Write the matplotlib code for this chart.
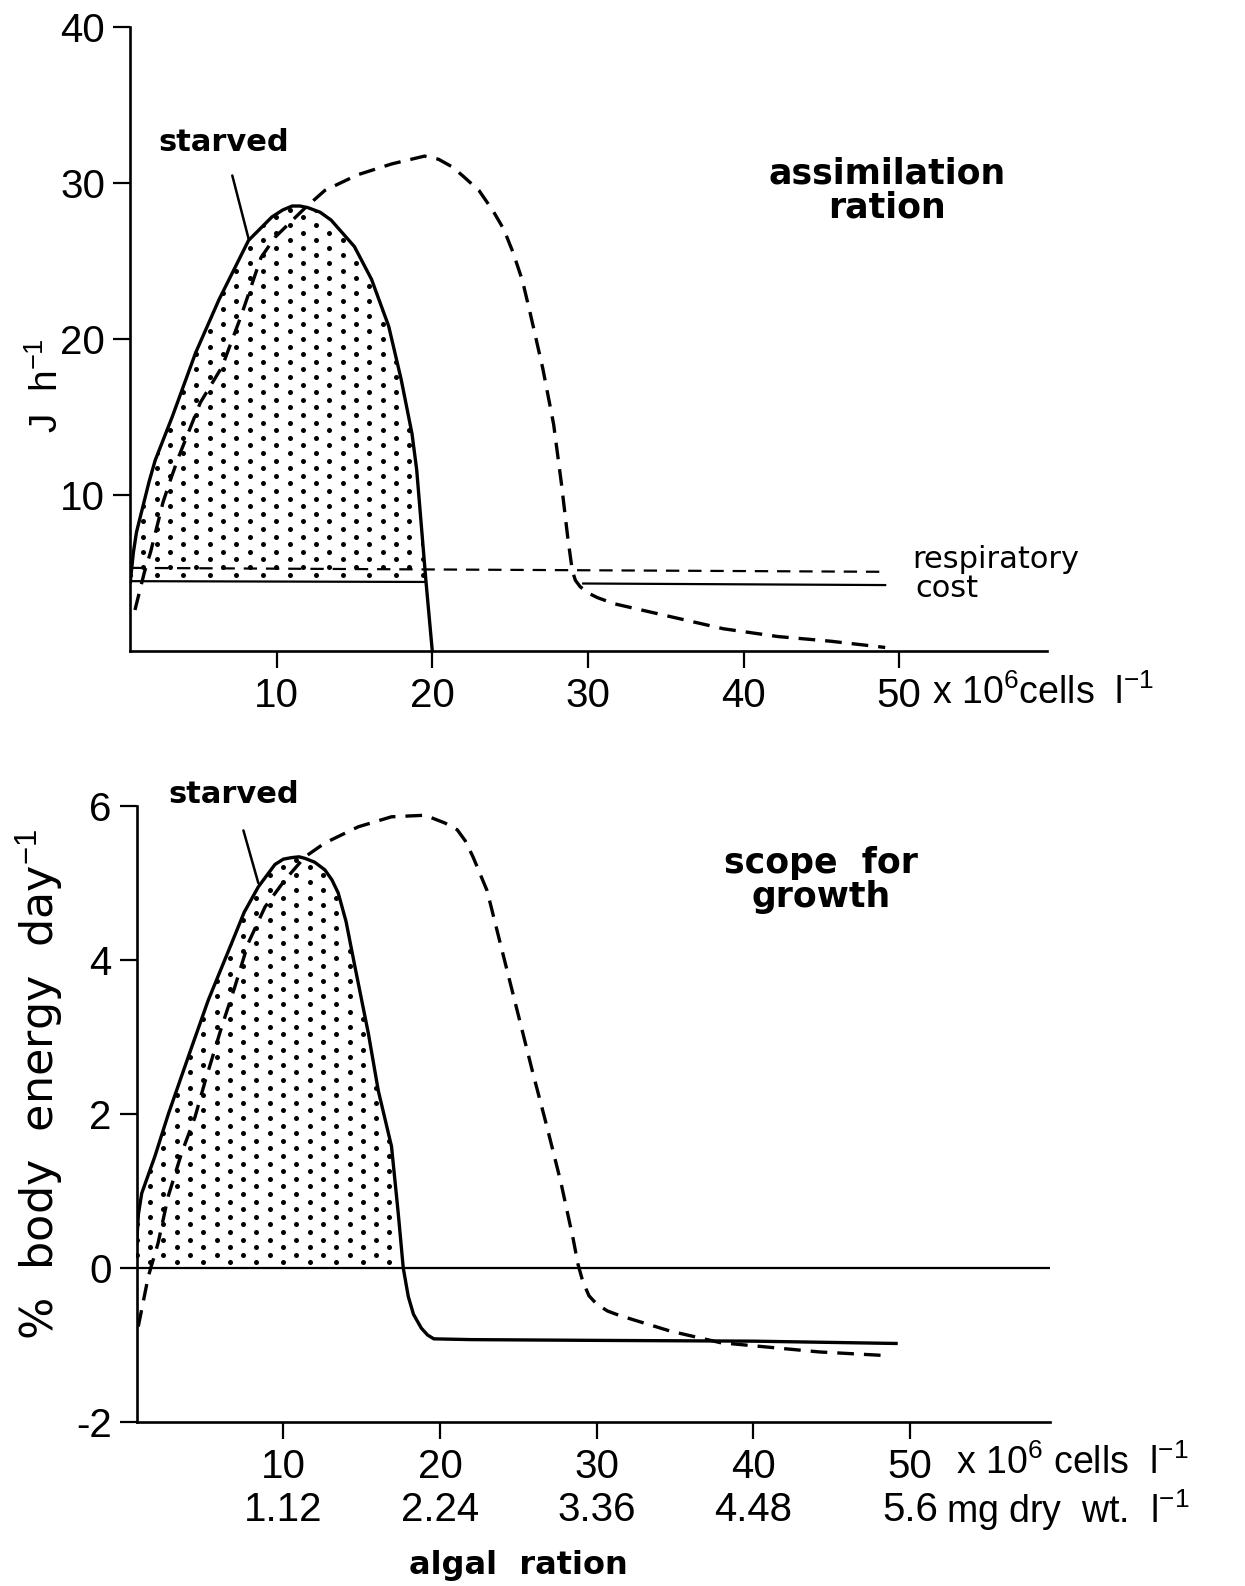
import numpy as np
import matplotlib
matplotlib.use('Agg')
import matplotlib.pyplot as plt

plt.rcParams['font.family'] = ['Liberation Sans', 'DejaVu Sans']
plt.rcParams['mathtext.fontset'] = 'custom'
plt.rcParams['mathtext.rm'] = 'Liberation Sans'
plt.rcParams['mathtext.it'] = 'Liberation Sans'
plt.rcParams['mathtext.bf'] = 'Liberation Sans:bold'

NUM = ['Liberation Sans', 'DejaVu Sans']
BOLD = ['DejaVu Sans']

# ---- top panel: assimilation ration (J h-1) vs algal ration (10^6 cells l-1)
top_starved_x = [0.6, 0.8, 1.0, 1.4, 1.8, 2.2, 3.3, 4.8, 6.3, 8.2, 9.7, 10.4, 11.0, 11.5,
                 12.0, 12.8, 13.5, 15.0, 16.1, 17.2, 18.0, 18.7, 19.0, 19.3, 19.6, 20.0]
top_starved_y = [4.4, 6.3, 7.6, 9.2, 10.8, 12.2, 15.0, 19.1, 22.5, 26.3, 27.8, 28.25, 28.5,
                 28.5, 28.4, 28.1, 27.6, 25.9, 23.8, 20.8, 17.4, 13.9, 11.6, 8.0, 4.4, 0.0]

top_fed_x = [0.9, 1.2, 1.5, 1.9, 2.3, 2.7, 3.2, 3.7, 5.1, 6.5, 7.7, 9.0, 9.9, 11.8, 13.1,
             15.2, 17.4, 19.5, 20.4, 21.3, 22.0, 23.0, 23.9, 24.6, 25.2, 25.8, 26.3, 27.1,
             27.8, 28.3, 28.7, 29.0, 29.2, 29.5, 30.0, 30.6, 31.7, 35.2, 38.7, 42.2,
             45.6, 49.1]
top_fed_y = [2.6, 3.8, 5.0, 6.3, 7.9, 9.5, 11.0, 12.4, 15.9, 18.2, 21.4, 25.2, 26.5, 28.35,
             29.5, 30.5, 31.2, 31.7, 31.5, 31.0, 30.4, 29.5, 28.2, 27.0, 25.5, 23.7, 21.6,
             18.1, 14.5, 10.7, 7.3, 5.1, 4.5, 4.1, 3.7, 3.4, 3.0, 2.2, 1.4, 0.9, 0.6, 0.2]

resp_fed_x = [0.75, 49.1]
resp_fed_y = [5.3, 5.05]
resp_starved_x1 = [0.6, 19.5]
resp_starved_y1 = [4.45, 4.4]
resp_starved_x2 = [29.7, 49.1]
resp_starved_y2 = [4.3, 4.2]

top_xticks = [10, 20, 30, 40, 50]
top_yticks = [10, 20, 30, 40]

# ---- bottom panel: scope for growth (% body energy day-1)
bot_starved_x = [0.6, 0.75, 0.96, 1.8, 2.66, 4.15, 5.21, 6.7, 7.5, 8.4, 9.46, 10.0, 10.53,
                 11.0, 11.38, 12.0, 12.65, 13.1, 13.5, 14.0, 14.57, 15.42, 16.06, 16.9,
                 17.33, 17.65, 17.97, 18.3, 18.8, 19.2, 19.6, 22.0, 30.0, 40.0, 49.1]
bot_starved_y = [0.2, 0.7, 0.97, 1.45, 2.0, 2.87, 3.48, 4.22, 4.62, 4.95, 5.24, 5.31, 5.33,
                 5.34, 5.32, 5.27, 5.17, 5.04, 4.87, 4.5, 3.91, 3.05, 2.3, 1.58, 0.71, 0.0,
                 -0.37, -0.6, -0.78, -0.87, -0.92, -0.93, -0.94, -0.95, -0.98]

bot_fed_x = [0.74, 1.38, 2.0, 2.65, 3.5, 4.36, 5.0, 6.06, 6.9, 7.76, 8.83, 10.1, 11.38,
             12.65, 14.78, 16.9, 19.04, 20.3, 21.1, 21.6, 22.1, 23.0, 23.8, 24.9, 25.9,
             26.8, 27.7, 28.5, 28.8, 29.1, 29.5, 30.0, 30.7, 31.5, 34.7, 37.9, 40.0,
             44.2, 48.7]
bot_fed_y = [-0.76, -0.11, 0.32, 0.93, 1.49, 1.96, 2.42, 3.13, 3.65, 4.22, 4.69, 5.04,
             5.34, 5.52, 5.73, 5.86, 5.88, 5.78, 5.69, 5.55, 5.34, 4.9, 4.25, 3.36, 2.55,
             1.85, 1.12, 0.37, 0.05, -0.17, -0.36, -0.47, -0.56, -0.62, -0.82, -0.97,
             -1.01, -1.09, -1.14]

bot_xticks = [10, 20, 30, 40, 50]
bot_xlabels = ['10\n1.12', '20\n2.24', '30\n3.36', '40\n4.48', '50\n5.6']
bot_yticks = [-2, 0, 2, 4, 6]
bot_ylabels = ['-2', '0', '2', '4', '6']

W, H = 1245, 1586
fig = plt.figure(figsize=(W / 100, H / 100), dpi=100)
ax1 = fig.add_axes([0.1044, 0.5898, 0.7366, 0.3934])
ax2 = fig.add_axes([0.1098, 0.1034, 0.7333, 0.3884])


def style(ax):
    for s in ['top', 'right']:
        ax.spines[s].set_visible(False)
    for s in ['left', 'bottom']:
        ax.spines[s].set_linewidth(1.9)
    ax.tick_params(direction='out', length=12, width=1.6, labelsize=29)
    ax.tick_params(axis='x', pad=7)
    ax.tick_params(axis='y', pad=6)
    for lab in ax.get_xticklabels() + ax.get_yticklabels():
        lab.set_family(NUM)


def stipple(ax, x, y, base):
    # staggered dot texture clipped to the area under the starved curve
    x = np.asarray(x)
    y = np.asarray(y)
    poly = ax.fill_between(x, y, base, where=y >= base, interpolate=True,
                           facecolor='none', edgecolor='none')
    pos = ax.get_position()
    wpx, hpx = pos.width * W, pos.height * H
    gx, gy = 26.6 / wpx, 7.6 / hpx
    px, py = [], []
    for i, r in enumerate(np.arange(0, 1, gy)):
        cols = np.arange((i % 2) * gx / 2, 1, gx)
        px.extend(cols)
        py.extend([r] * len(cols))
    dots, = ax.plot(px, py, 'o', ms=3.6, color='black', mec='none',
                    transform=ax.transAxes)
    dots.set_clip_path(poly.get_paths()[0], ax.transData)


# ---------------- top
ax1.set_xlim(0.58, 59.5)
ax1.set_ylim(0, 40)
ax1.set_xticks(top_xticks)
ax1.set_yticks(top_yticks)
style(ax1)

stipple(ax1, top_starved_x, top_starved_y, 4.6)
ax1.plot(top_starved_x, top_starved_y, color='black', lw=2.4)
ax1.plot(top_fed_x, top_fed_y, color='black', lw=2.4, dashes=(5, 3))
ax1.plot(resp_fed_x, resp_fed_y, color='black', lw=1.6, dashes=(6, 4))
ax1.plot(resp_starved_x1, resp_starved_y1, color='black', lw=1.6)
ax1.plot(resp_starved_x2, resp_starved_y2, color='black', lw=1.6)

ax1.annotate('starved', xy=(8.2, 26.4), xytext=(6.6, 32.6), ha='center', va='center',
             fontsize=22, fontweight='bold', family=BOLD,
             arrowprops=dict(arrowstyle='-', lw=1.8, color='black',
                             shrinkA=12, shrinkB=0))
ax1.text(49.2, 29.5, 'assimilation\nration', ha='center', va='center', fontsize=25,
         fontweight='bold', family=BOLD, linespacing=1.0)
ax1.text(56.2, 5.85, 'respiratory', ha='center', va='center', fontsize=22,
         family=['DejaVu Sans'])
ax1.text(53.1, 3.95, 'cost', ha='center', va='center', fontsize=22,
         family=['DejaVu Sans'])
ax1.text(52.1, -2.75, r'x 10$^{6}$cells  l$^{-1}$', ha='left', va='center',
         fontsize=27, family=['Liberation Sans'], clip_on=False)
fig.text(0.038, 0.757, r'J  h$^{-1}$', rotation=90, ha='center', va='center',
         fontsize=28, family=['Liberation Sans'])

# ---------------- bottom
ax2.set_xlim(0.64, 58.9)
ax2.set_ylim(-2, 6)
ax2.set_xticks(bot_xticks)
ax2.set_xticklabels(bot_xlabels, linespacing=1.15)
ax2.set_yticks(bot_yticks)
ax2.set_yticklabels(bot_ylabels)
style(ax2)
ax2.axhline(0, color='black', lw=1.6)

stipple(ax2, bot_starved_x, bot_starved_y, 0)
ax2.plot(bot_starved_x, bot_starved_y, color='black', lw=2.4)
ax2.plot(bot_fed_x, bot_fed_y, color='black', lw=2.4, dashes=(5, 3))

ax2.annotate('starved', xy=(8.4, 5.0), xytext=(6.8, 6.15), ha='center', va='center',
             fontsize=22, fontweight='bold', family=BOLD,
             arrowprops=dict(arrowstyle='-', lw=1.8, color='black',
                             shrinkA=14, shrinkB=0))
ax2.text(44.3, 5.04, 'scope  for\ngrowth', ha='center', va='center', fontsize=25,
         fontweight='bold', family=BOLD, linespacing=1.0)
ax2.text(52.9, -2.53, r'x 10$^{6}$ cells  l$^{-1}$', ha='left', va='center',
         fontsize=27, family=['Liberation Sans'], clip_on=False)
ax2.text(52.3, -3.14, r'mg dry  wt.  l$^{-1}$', ha='left', va='center',
         fontsize=27, family=['Liberation Sans'], clip_on=False)
ax2.text(25.0, -3.87, 'algal  ration', ha='center', va='center', fontsize=23,
         fontweight='bold', family=BOLD, clip_on=False)
fig.text(0.032, 0.3165, r'%  body  energy  day$^{-1}$', rotation=90, ha='center',
         va='center', fontsize=32, family=['DejaVu Sans'])

fig.savefig('out.png', dpi=100, facecolor='white')
